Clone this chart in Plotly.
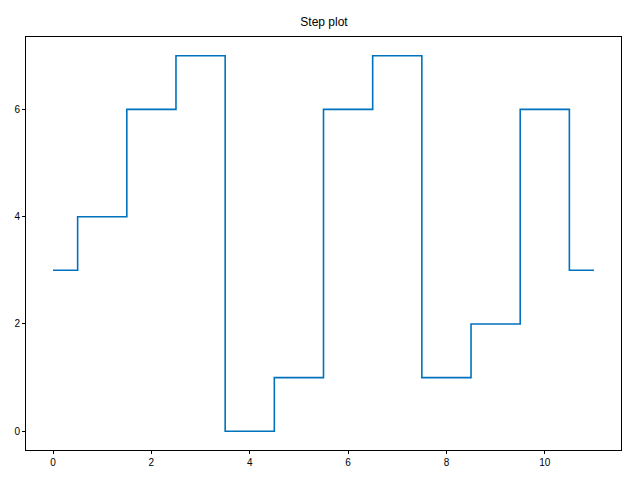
import plotly.graph_objects as go

# step plot data
x_vals = [0, 1, 2, 3, 4, 5, 6, 7, 8, 9, 10, 11]
y_vals = [3, 4, 6, 7, 0, 1, 6, 7, 1, 2, 6, 3]

fig = go.Figure(
    go.Scatter(
        x=x_vals,
        y=y_vals,
        mode="lines",
        line=dict(shape="hvh", color="#0072BD", width=1.6),
        showlegend=False,
    )
)

axis_style = dict(
    showgrid=False,
    zeroline=False,
    showline=True,
    mirror=True,
    linecolor="black",
    linewidth=1,
    ticks="outside",
    ticklen=3,
    tickcolor="black",
    tickfont=dict(size=10, color="black"),
    automargin=False,
)

# page body has an 8px margin, so the figure is sized/offset to compensate
fig.update_layout(
    width=632,
    height=472,
    margin=dict(l=18, r=19, t=29, b=30),
    paper_bgcolor="white",
    plot_bgcolor="white",
    font=dict(family="Liberation Sans, Arial, sans-serif", color="black"),
    title=dict(
        text="Step plot",
        x=(324 - 8) / 632,
        xanchor="center",
        y=1 - 14 / 472,
        yanchor="middle",
        font=dict(size=12, color="black"),
    ),
    xaxis=dict(range=[-0.55, 11.55], dtick=2, tick0=0, **axis_style),
    yaxis=dict(range=[-0.35, 7.35], dtick=2, tick0=0, **axis_style),
)

fig.write_html("out.html")
